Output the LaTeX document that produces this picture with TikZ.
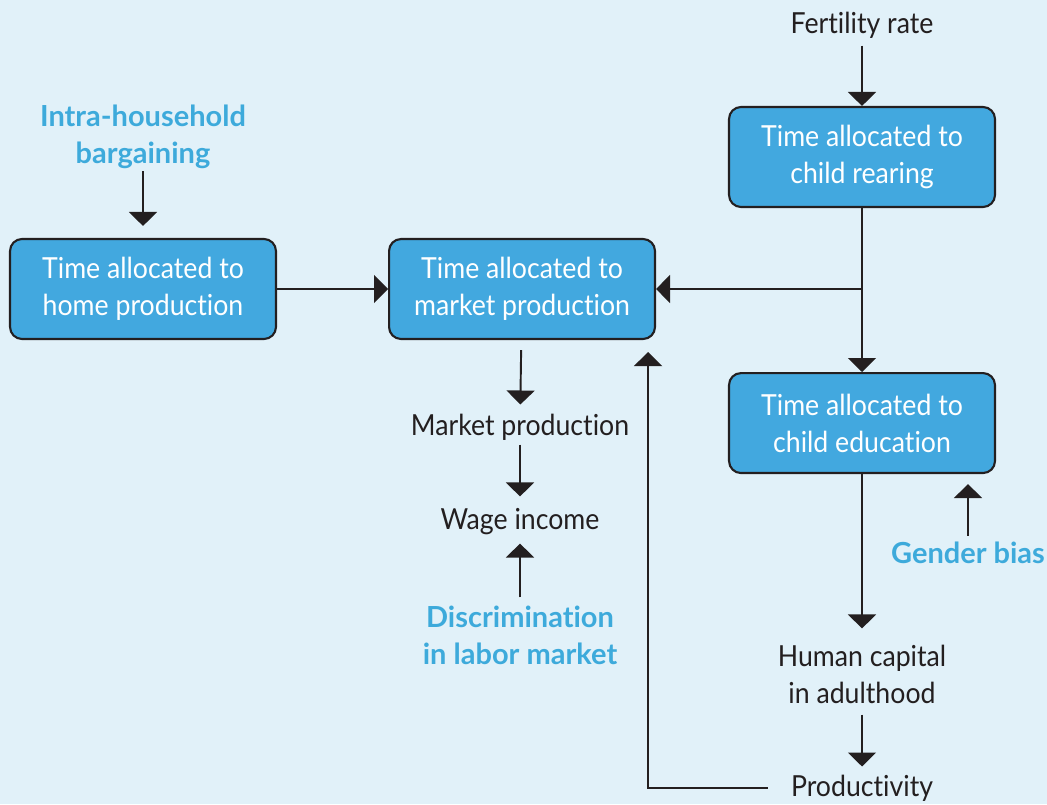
\documentclass[tikz,border=0pt]{standalone}
\usepackage{fontspec}
\setmainfont{Lato}[Ligatures=NoCommon, FakeStretch=0.92, BoldFeatures={FakeStretch=1.0}]
\usepackage{tikz}
\usetikzlibrary{calc, arrows.meta, positioning, backgrounds}
\definecolor{bgblue}{HTML}{E1F1F9}
\definecolor{boxblue}{HTML}{42A8DF}
\definecolor{labelblue}{HTML}{3DAADB}
\definecolor{inkgray}{HTML}{231F20}
\tikzset{
    boxnode/.style = {draw=inkgray, fill=boxblue, rectangle, rounded corners=0.24cm, line width=1.2pt,
      minimum width=5.32cm, minimum height=2cm, inner sep=0em, text=white, align=center,
      font=\fontsize{16.5}{21}\selectfont},
    textnode/.style = {draw=none, fill=none, rectangle, inner sep=0em, text=inkgray, align=center,
      font=\fontsize{16.5}{21}\selectfont},
    bluenode/.style = {textnode, text=labelblue, font=\fontsize{16.5}{21}\selectfont\bfseries},
    connect/.style = {inkgray, line width=1.1pt, -{Triangle[width=0.56cm, length=0.28cm]}}
}

\begin{document}
\begin{tikzpicture}[x=0.02cm, y=-0.02cm]
    \fill[bgblue] (0,0) rectangle (1047,804);
    \useasboundingbox (0,0) rectangle (1047,804);
    \node[boxnode, name=home] at (143,289) {Time allocated to\\home production};
    \node[boxnode, name=market, right=2.22cm of home] {Time allocated to\\market production};
    \node[boxnode, name=rear] at (862,157) {Time allocated to\\child rearing};
    \node[boxnode, name=edu, below=3.28cm of rear] {Time allocated to\\child education};
    \node[bluenode, name=intra] at (143,137) {Intra-household\\bargaining};
    \node[textnode, name=fert] at (862,25) {Fertility rate};
    \node[textnode, name=mprod] at (520,427) {Market production};
    \node[textnode, name=wage] at (520,522) {Wage income};
    \node[bluenode, name=discr] at (520,635) {Discrimination\\in labor market};
    \node[textnode, name=human] at (862,674) {Human capital\\in adulthood};
    \node[textnode, name=prod] at (862,788) {Productivity};
    \node[bluenode, name=gender] at (968,553) {Gender bias};
    \coordinate (mkin) at ([xshift=-0.16cm]market.south east);
    \draw (intra) edge[connect, shorten <=0.04cm, shorten >=0.24cm] (home);
    \draw (fert) edge[connect, shorten <=0.14cm] (rear);
    \draw (home) edge[connect] (market);
    \draw[connect] (rear.south) |- (market.east);
    \draw (rear) edge[connect] (edu);
    \draw (market) edge[connect, shorten <=0.2cm, shorten >=0.18cm] (mprod);
    \draw (mprod) edge[connect, shorten <=0.08cm, shorten >=0.24cm] (wage);
    \draw (discr) edge[connect, shorten <=0.16cm, shorten >=0.16cm] (wage);
    \draw (edu) edge[connect, shorten >=0.32cm] (human);
    \draw (human) edge[connect, shorten <=0.22cm, shorten >=0.16cm] (prod);
    \draw[connect, shorten <=0.46cm, shorten >=0.24cm] (prod.west) -| (mkin);
    \draw[connect, shorten <=0.12cm, shorten >=0.2cm] (gender.north) -- (gender.north |- edu.south);
\end{tikzpicture}
\end{document}
